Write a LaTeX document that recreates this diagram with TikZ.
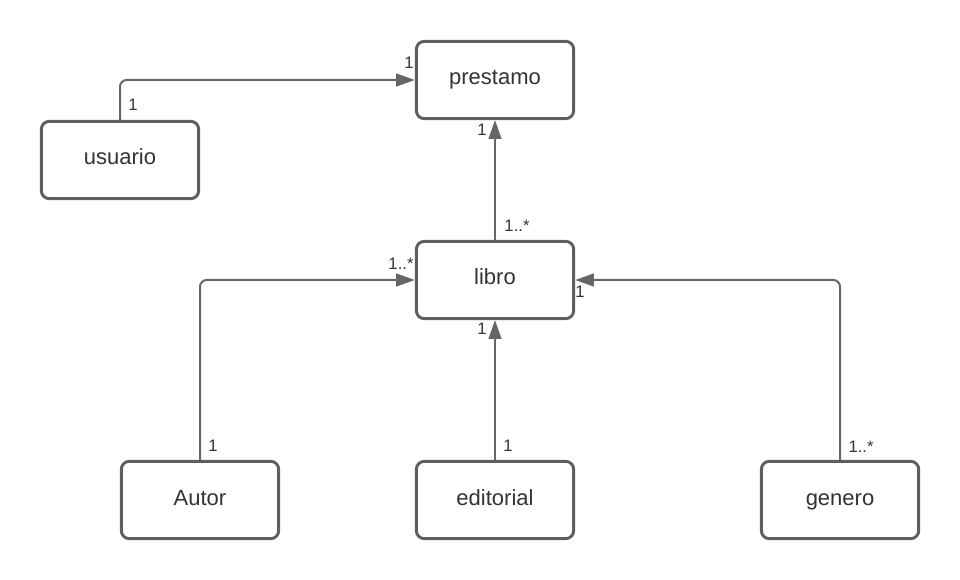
\documentclass[tikz,border=0pt]{standalone}
\usepackage{fontspec}
\setmainfont{Liberation Sans}
\usetikzlibrary{arrows.meta}
\definecolor{linegray}{HTML}{666666}
\definecolor{boxgray}{HTML}{5E5E5E}
\definecolor{txt}{HTML}{333333}
\tikzset{
  cls/.style={draw=boxgray, line width=2.2pt, rounded corners=6pt, fill=white,
    minimum width=118pt, minimum height=58pt, inner sep=0pt, text=txt,
    text height=11pt, text depth=3.5pt,
    font=\fontsize{16.5pt}{18pt}\selectfont},
  conn/.style={draw=linegray, line width=1.5pt, rounded corners=5pt,
    -{Triangle[length=14pt,width=9.5pt]}},
  mult/.style={text=txt, inner sep=0pt, font=\fontsize{12.5pt}{14pt}\selectfont}
}
\begin{document}
\begin{tikzpicture}[x=0.75pt,y=-0.75pt]
\useasboundingbox (0,0) rectangle (960,580);
\node[cls] (prestamo) at (495,80) {prestamo};
\node[cls] (usuario) at (120,160) {usuario};
\node[cls] (libro) at (495,280) {libro};
\node[cls] (autor) at (200,500) {Autor};
\node[cls] (editorial) at (495,500) {editorial};
\node[cls] (genero) at (840,500) {genero};

\draw[conn] (usuario.north) |- (prestamo.west);
\draw[conn] (libro.north) -- (prestamo.south);
\draw[conn] (autor.north) |- (libro.west);
\draw[conn] (editorial.north) -- (libro.south);
\draw[conn] (genero.north) |- (libro.east);

\node[mult] (m1) at (133,105) {1};
\node[mult] (m2) at (409,63) {1};
\node[mult] (m3) at (482,130) {1};
\node[mult] (m4) at (517,226) {1..*};
\node[mult] (m5) at (401,264) {1..*};
\node[mult] (m6) at (580,292) {1};
\node[mult] (m7) at (482,329) {1};
\node[mult] (m8) at (213,446) {1};
\node[mult] (m9) at (508,446) {1};
\node[mult] (m10) at (861,447) {1..*};
\end{tikzpicture}
\end{document}
